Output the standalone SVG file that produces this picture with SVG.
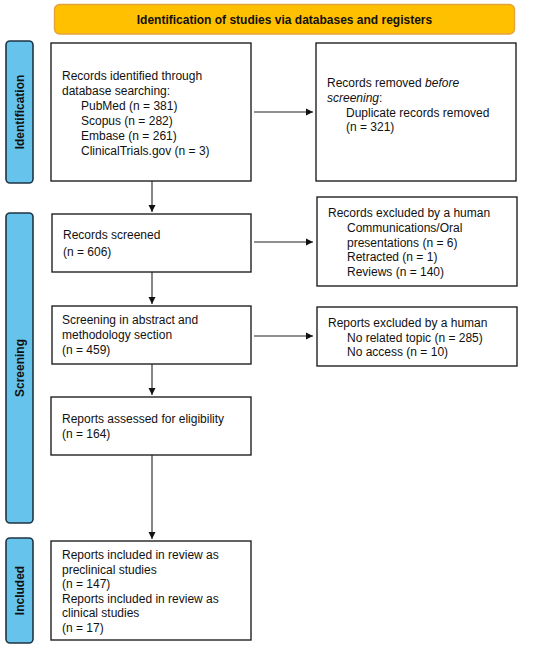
<svg xmlns="http://www.w3.org/2000/svg" width="550" height="650" viewBox="0 0 550 650">
<defs>
<marker id="arr" markerWidth="8" markerHeight="8" refX="7" refY="4" orient="auto" markerUnits="userSpaceOnUse">
<path d="M0,0.5 L7,4 L0,7.5 Z" fill="#111"/>
</marker>
<style>
.box{fill:#fff;stroke:#222;stroke-width:1.4}
.side{fill:#66C4EC;stroke:#1e3444;stroke-width:1.6}
.banner{fill:#FFC000;stroke:#E3A23A;stroke-width:1.4}
text{font-family:"Liberation Sans",Arial,sans-serif;font-size:12px;fill:#111}
.b{font-weight:bold}
.conn{stroke:#222;stroke-width:1.1;fill:none;marker-end:url(#arr)}
</style>
</defs>
<rect width="550" height="650" fill="#fff"/>
<g id="banner">
<rect class="banner" x="54.5" y="4.5" width="460" height="29.5" rx="5"/>
<text class="b" x="284.5" y="24" text-anchor="middle">Identification of studies via databases and registers</text>
</g>
<g id="side-identification">
<rect class="side" x="6" y="41" width="27" height="142" rx="4"/>
<text class="b" transform="translate(24,112) rotate(-90)" text-anchor="middle">Identification</text>
</g>
<g id="side-screening">
<rect class="side" x="6" y="213" width="27" height="310" rx="4"/>
<text class="b" transform="translate(24,368) rotate(-90)" text-anchor="middle">Screening</text>
</g>
<g id="side-included">
<rect class="side" x="6" y="538" width="27" height="105" rx="4"/>
<text class="b" transform="translate(24,590.5) rotate(-90)" text-anchor="middle">Included</text>
</g>
<g id="n1">
<rect class="box" x="51" y="43" width="200" height="138"/>
<text x="62" y="80">Records identified through</text>
<text x="62" y="95">database searching:</text>
<text x="81" y="110">PubMed (n = 381)</text>
<text x="81" y="125">Scopus (n = 282)</text>
<text x="81" y="140">Embase (n = 261)</text>
<text x="81" y="154.5">ClinicalTrials.gov (n = 3)</text>
</g>
<g id="n2">
<rect class="box" x="316" y="43" width="200" height="138"/>
<text x="327" y="87">Records removed <tspan font-style="italic">before</tspan></text>
<text x="327" y="101.5"><tspan font-style="italic">screening</tspan>:</text>
<text x="346" y="116.5">Duplicate records removed</text>
<text x="346" y="131">(n = 321)</text>
</g>
<g id="n3">
<rect class="box" x="52" y="214" width="199" height="58"/>
<text x="63" y="239">Records screened</text>
<text x="63" y="256">(n = 606)</text>
</g>
<g id="n4">
<rect class="box" x="317" y="197" width="200" height="89"/>
<text x="328" y="217">Records excluded by a human</text>
<text x="347" y="231.5">Communications/Oral</text>
<text x="347" y="246.5">presentations (n = 6)</text>
<text x="347" y="261">Retracted (n = 1)</text>
<text x="347" y="275.5">Reviews (n = 140)</text>
</g>
<g id="n5">
<rect class="box" x="52" y="306" width="199" height="58"/>
<text x="62" y="324">Screening in abstract and</text>
<text x="62" y="339">methodology section</text>
<text x="62" y="354">(n = 459)</text>
</g>
<g id="n6">
<rect class="box" x="317" y="307" width="200" height="59"/>
<text x="328" y="327">Reports excluded by a human</text>
<text x="347" y="341.5">No related topic (n = 285)</text>
<text x="347" y="356">No access (n = 10)</text>
</g>
<g id="n7">
<rect class="box" x="51" y="397" width="200" height="58"/>
<text x="62" y="423">Reports assessed for eligibility</text>
<text x="62" y="437.5">(n = 164)</text>
</g>
<g id="n8">
<rect class="box" x="51" y="541" width="200" height="99"/>
<text x="62" y="559">Reports included in review as</text>
<text x="62" y="573.5">preclinical studies</text>
<text x="62" y="588">(n = 147)</text>
<text x="62" y="603">Reports included in review as</text>
<text x="62" y="617">clinical studies</text>
<text x="62" y="632">(n = 17)</text>
</g>
<g id="connectors">
<line class="conn" x1="152" y1="181" x2="152" y2="212"/>
<line class="conn" x1="254" y1="112" x2="313" y2="112"/>
<line class="conn" x1="152" y1="272" x2="152" y2="304"/>
<line class="conn" x1="254" y1="242" x2="313" y2="242"/>
<line class="conn" x1="152" y1="364" x2="152" y2="395"/>
<line class="conn" x1="254" y1="336" x2="313" y2="336"/>
<line class="conn" x1="152" y1="455" x2="152" y2="539"/>
</g>
</svg>
